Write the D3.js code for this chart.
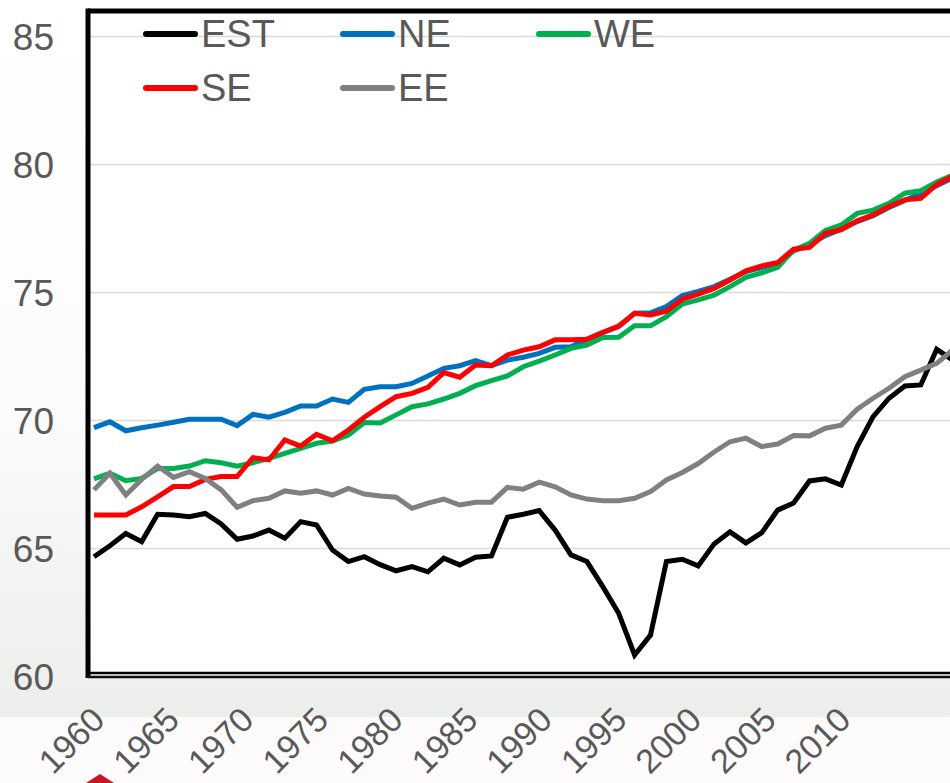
<!DOCTYPE html>
<html>
<head>
<meta charset="utf-8">
<script src="https://cdn.jsdelivr.net/npm/d3@7"></script>
<style>
  body { margin: 0; background: #fff; }
  text { font-family: "Liberation Sans", Arial, sans-serif; }
</style>
</head>
<body>
<svg id="chart" width="950" height="783"></svg>
<script>
// years 1960..2014
const years = d3.range(1960, 2015);

const est = [64.66, 65.09, 65.57, 65.25, 66.32, 66.29, 66.22, 66.35, 65.94, 65.34,
  65.47, 65.70, 65.38, 66.03, 65.90, 64.92, 64.47, 64.66, 64.35, 64.11,
  64.27, 64.07, 64.60, 64.34, 64.64, 64.69, 66.20, 66.32, 66.46, 65.70,
  64.73, 64.47, 63.49, 62.45, 60.82, 61.60, 64.47, 64.56, 64.30, 65.16,
  65.63, 65.20, 65.60, 66.48, 66.76, 67.62, 67.70, 67.46, 68.96, 70.13,
  70.85, 71.33, 71.37, 72.76, 72.34];

const ne = [69.70, 69.93, 69.58, 69.70, 69.80, 69.91, 70.03, 70.03, 70.03, 69.78,
  70.22, 70.11, 70.30, 70.55, 70.55, 70.82, 70.69, 71.20, 71.30, 71.30,
  71.43, 71.72, 72.02, 72.12, 72.32, 72.12, 72.34, 72.45, 72.60, 72.84,
  72.86, 73.15, 73.41, 73.65, 74.17, 74.19, 74.43, 74.86, 75.02, 75.21,
  75.50, 75.80, 75.95, 76.12, 76.60, 76.85, 77.20, 77.45, 77.75, 77.98,
  78.30, 78.58, 78.85, 79.15, 79.45];

const we = [67.70, 67.92, 67.63, 67.72, 68.11, 68.11, 68.20, 68.41, 68.33, 68.20,
  68.33, 68.50, 68.70, 68.89, 69.09, 69.18, 69.41, 69.90, 69.88, 70.20,
  70.52, 70.63, 70.82, 71.04, 71.34, 71.54, 71.72, 72.08, 72.30, 72.54,
  72.80, 72.93, 73.22, 73.23, 73.68, 73.68, 74.04, 74.53, 74.69, 74.88,
  75.21, 75.57, 75.75, 75.96, 76.64, 76.90, 77.40, 77.62, 78.07, 78.20,
  78.46, 78.86, 78.96, 79.30, 79.57];

const se = [66.29, 66.29, 66.29, 66.61, 67.00, 67.40, 67.40, 67.68, 67.79, 67.79,
  68.53, 68.44, 69.22, 68.98, 69.44, 69.19, 69.61, 70.11, 70.52, 70.91,
  71.04, 71.28, 71.85, 71.67, 72.15, 72.12, 72.54, 72.73, 72.86, 73.13,
  73.13, 73.15, 73.43, 73.67, 74.17, 74.10, 74.25, 74.72, 74.92, 75.14,
  75.47, 75.83, 76.02, 76.15, 76.67, 76.74, 77.29, 77.44, 77.78, 78.01,
  78.34, 78.60, 78.66, 79.20, 79.52];

const ee = [67.27, 67.92, 67.07, 67.68, 68.20, 67.76, 67.98, 67.72, 67.27, 66.59,
  66.85, 66.94, 67.23, 67.14, 67.23, 67.07, 67.33, 67.11, 67.03, 66.98,
  66.55, 66.75, 66.91, 66.68, 66.79, 66.79, 67.37, 67.30, 67.57, 67.39,
  67.07, 66.91, 66.85, 66.85, 66.94, 67.20, 67.66, 67.95, 68.30, 68.75,
  69.15, 69.29, 68.96, 69.06, 69.39, 69.38, 69.68, 69.80, 70.42, 70.85,
  71.24, 71.69, 71.95, 72.21, 72.73];

const seriesNames = ["EST", "NE", "WE", "SE", "EE"];
const seriesColors = ["#000000", "#0070c0", "#00b050", "#ff0000", "#808080"];
const seriesValues = [est, ne, we, se, ee];

const yTicks = [60, 65, 70, 75, 80, 85];
const xTicks = [1960, 1965, 1970, 1975, 1980, 1985, 1990, 1995, 2000, 2005, 2010];

const svg = d3.select("#chart");

// background band under the plot (slide gradient)
const defs = svg.append("defs");
const grad = defs.append("linearGradient")
  .attr("id", "bg").attr("x1", 0).attr("x2", 0).attr("y1", 0).attr("y2", 1);
grad.append("stop").attr("offset", "0%").attr("stop-color", "#ffffff");
grad.append("stop").attr("offset", "55%").attr("stop-color", "#fbfcfb");
grad.append("stop").attr("offset", "100%").attr("stop-color", "#eceeec");

svg.append("rect").attr("x", 0).attr("y", 0).attr("width", 950).attr("height", 717)
  .attr("fill", "url(#bg)");
svg.append("rect").attr("x", 0).attr("y", 717).attr("width", 950).attr("height", 66)
  .attr("fill", "#fdfbfc");

const plotLeft = 88, plotTop = 11, plotBottom = 675;

const x = d3.scaleLinear().domain([1960, 2014]).range([94, 952.6]);
const y = d3.scaleLinear().domain([60, 85]).range([676, 36]);
// tick labels on the category axis sit a little off the data points
const xLab = d3.scaleLinear().domain([1960, 2010]).range([106, 852]);

// plot area
svg.append("rect")
  .attr("x", plotLeft).attr("y", plotTop).attr("width", 950 - plotLeft + 20).attr("height", plotBottom - plotTop)
  .attr("fill", "#ffffff");

// gridlines
svg.append("g")
  .attr("transform", `translate(${plotLeft},0)`)
  .call(d3.axisLeft(y).tickValues(yTicks.slice(1)).tickSize(-(950 - plotLeft)).tickFormat(""))
  .call(g => g.select(".domain").remove())
  .call(g => g.selectAll("line").attr("stroke", "#d9d9d9").attr("stroke-width", 1.6));

// y labels
svg.append("g")
  .attr("transform", `translate(54,0)`)
  .call(d3.axisLeft(y).tickValues(yTicks).tickSize(0).tickPadding(0))
  .call(g => g.select(".domain").remove())
  .call(g => g.selectAll("text")
    .attr("font-size", 37)
    .attr("fill", "#595959")
    .attr("font-family", "Liberation Sans, Arial, sans-serif")
    .attr("dy", "0.36em"));

// x labels, rotated
svg.append("g")
  .attr("transform", `translate(0,722)`)
  .call(d3.axisBottom(xLab).tickValues(xTicks).tickSize(0).tickFormat(d3.format("d")))
  .call(g => g.select(".domain").remove())
  .call(g => g.selectAll("text")
    .attr("font-size", 34)
    .attr("fill", "#595959")
    .attr("font-family", "Liberation Sans, Arial, sans-serif")
    .attr("text-anchor", "end")
    .attr("dy", 0)
    .attr("y", 0)
    .attr("transform", "rotate(-45)"));

// lines
const line = d3.line()
  .x((d, i) => x(years[i]))
  .y(d => y(d));

svg.append("clipPath").attr("id", "clip")
  .append("rect").attr("x", plotLeft).attr("y", plotTop).attr("width", 950 - plotLeft).attr("height", plotBottom - plotTop);

const lineG = svg.append("g").attr("clip-path", "url(#clip)");
seriesValues.forEach((vals, k) => {
  lineG.append("path")
    .datum(vals)
    .attr("d", line)
    .attr("fill", "none")
    .attr("stroke", seriesColors[k])
    .attr("stroke-width", 5)
    .attr("stroke-linejoin", "miter");
});

// frame
svg.append("line").attr("x1", plotLeft).attr("x2", 950).attr("y1", plotTop).attr("y2", plotTop)
  .attr("stroke", "#000").attr("stroke-width", 5);
svg.append("line").attr("x1", plotLeft).attr("x2", plotLeft).attr("y1", plotTop - 2.5).attr("y2", plotBottom + 3)
  .attr("stroke", "#000").attr("stroke-width", 5);
svg.append("line").attr("x1", plotLeft).attr("x2", 950).attr("y1", 673).attr("y2", 673)
  .attr("stroke", "#000").attr("stroke-width", 2.6);
svg.append("line").attr("x1", plotLeft).attr("x2", 950).attr("y1", 677).attr("y2", 677)
  .attr("stroke", "#111").attr("stroke-width", 2.6);

// legend
const legendPos = [[143, 34], [340, 34], [536, 34], [143, 88], [340, 88]];
const legend = svg.append("g");
seriesNames.forEach((name, k) => {
  const [lx, ly] = legendPos[k];
  legend.append("line")
    .attr("x1", lx + 3).attr("x2", lx + 52).attr("y1", ly).attr("y2", ly)
    .attr("stroke", seriesColors[k]).attr("stroke-width", 6).attr("stroke-linecap", "round");
  legend.append("text")
    .attr("x", lx + 58).attr("y", ly + 13)
    .attr("font-size", 38)
    .attr("fill", "#595959")
    .text(name);
});

// slide logo corner
svg.append("path")
  .attr("d", "M86,783 L100,774 L114,783 Z")
  .attr("fill", "#c41820");
</script>
</body>
</html>
